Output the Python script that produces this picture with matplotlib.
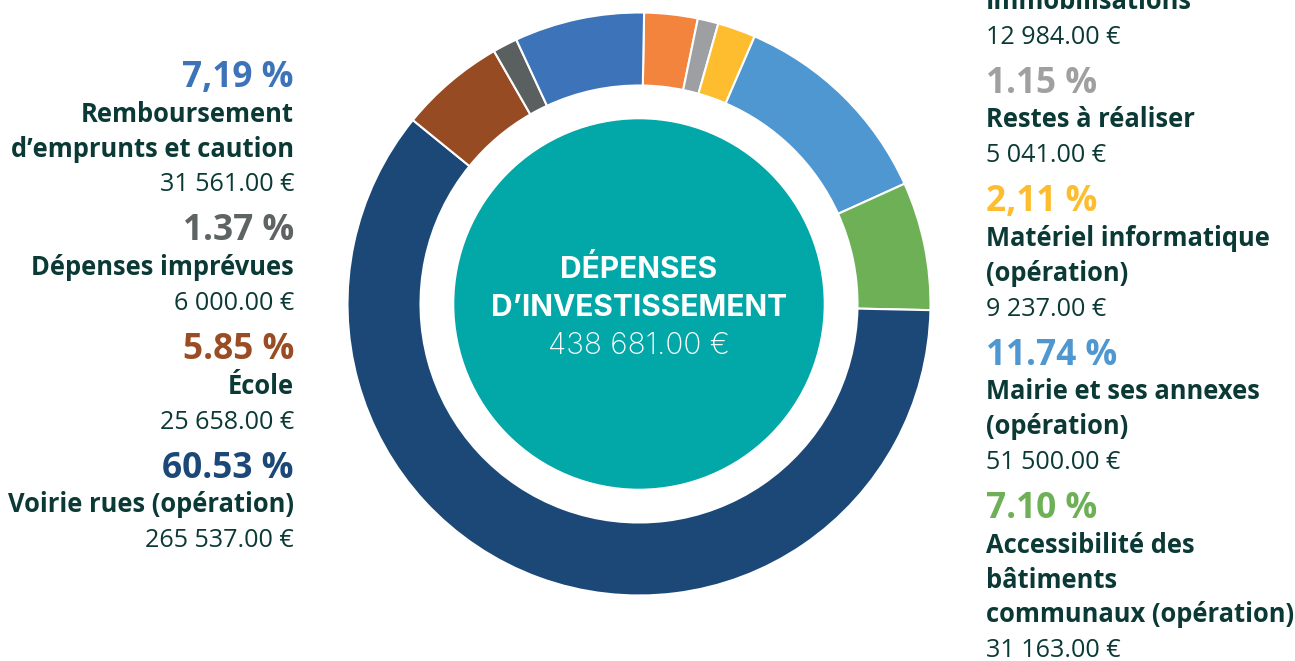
import matplotlib.pyplot as plt

# slices, clockwise from the top
labels = [
    ["Immobilisations"],
    ["Restes à réaliser"],
    ["Matériel informatique", "(opération)"],
    ["Mairie et ses annexes", "(opération)"],
    ["Accessibilité des", "bâtiments", "communaux (opération)"],
    ["Voirie rues (opération)"],
    ["École"],
    ["Dépenses imprévues"],
    ["Remboursement", "d’emprunts et caution"],
]
amounts = [12984, 5041, 9237, 51500, 31163, 265537, 25658, 6000, 31561]
pct_texts = ["2.96 %", "1.15 %", "2,11 %", "11.74 %", "7.10 %",
             "60.53 %", "5.85 %", "1.37 %", "7,19 %"]
colors = ["#F3843E", "#9D9FA2", "#FDBD2E", "#4F97D1", "#6EB056",
          "#1C4878", "#964B22", "#5A5F5F", "#3D73B9"]
pct_colors = ["#F3843E", "#A0A0A0", "#FDBD2E", "#4F97D1", "#6EB056",
              "#1C4878", "#9A4D24", "#5E6363", "#3D73B9"]

center_title = ["DÉPENSES", "D’INVESTISSEMENT"]
total = sum(amounts)

right_side = [0, 1, 2, 3, 4]
left_side = [8, 7, 6, 5]

text_dark = "#0B3A36"
teal = "#02A7A8"

W, H = 1295, 661
fig = plt.figure(figsize=(W / 100, H / 100), dpi=100)
ax = fig.add_axes([0, 0, 1, 1])

cx, cy = 639, H - 304
ax.pie(amounts, colors=colors, startangle=89, counterclock=False,
       radius=291.5, center=(cx, cy),
       wedgeprops=dict(width=73, edgecolor="white", linewidth=1.5))
ax.add_patch(plt.Circle((cx, cy), 184, color=teal, zorder=3))

ax.set_xlim(0, W)
ax.set_ylim(0, H)
ax.set_aspect("equal")
ax.axis("off")


def money(v):
    return f"{v:,.2f}".replace(",", " ") + " €"


def draw_column(idx_list, x, y0, ha):
    y = y0
    for i in idx_list:
        ax.text(x, H - y, pct_texts[i], color=pct_colors[i], fontsize=25.4,
                fontweight="bold", family="Open Sans", ha=ha, va="baseline")
        for line in labels[i]:
            y += 34.8
            ax.text(x, H - y, line, color=text_dark, fontsize=18.4,
                    fontweight="bold", family="Open Sans", ha=ha, va="baseline")
        y += 34.8
        ax.text(x, H - y, money(amounts[i]), color=text_dark, fontsize=18.1,
                family="Open Sans", ha=ha, va="baseline")
        y += 49


draw_column(left_side, 294, 87, "right")
draw_column(right_side, 986, -26, "left")

ax.text(cx, H - 278, center_title[0], color="white", fontsize=21.5,
        fontweight="bold", family="Inter", ha="center", va="baseline", zorder=4)
ax.text(cx, H - 316, center_title[1], color="white", fontsize=21.5,
        fontweight="bold", family="Inter", ha="center", va="baseline", zorder=4)
ax.text(cx, H - 354, money(total), color="white", fontsize=21.5,
        fontweight="light", family="Inter", ha="center", va="baseline", zorder=4)

fig.savefig("out.png", dpi=100)
